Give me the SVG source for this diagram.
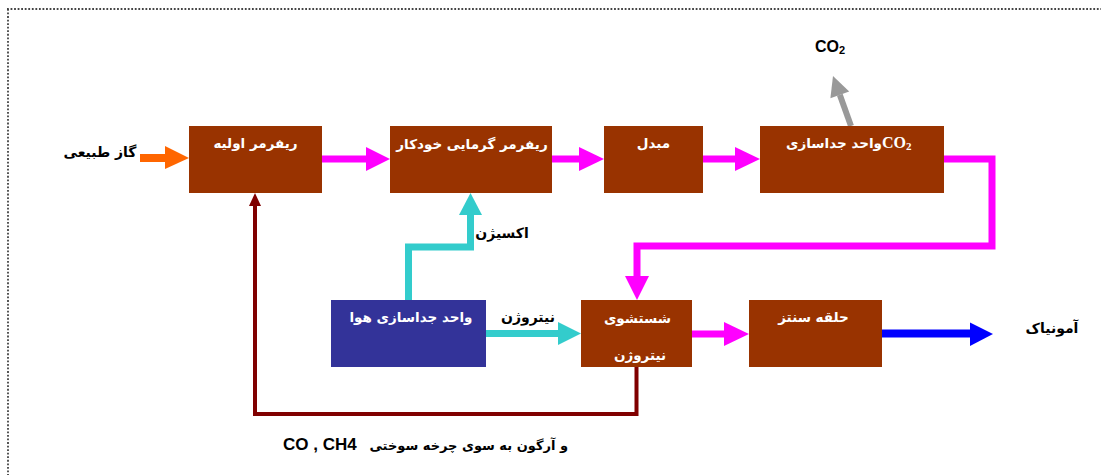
<svg xmlns="http://www.w3.org/2000/svg" width="1101" height="475" viewBox="0 0 1101 475">
<style>
.box{fill:#993300}
.air{fill:#333399}
.fa{font-family:"DejaVu Sans","Noto Sans",sans-serif;font-weight:bold}
.wt{fill:#FFFFFF;font-size:13.5px}
.bk{fill:#000000;font-size:14px}
.lat{font-family:"Liberation Sans",Arial,sans-serif;font-weight:bold;fill:#000000}
.dot{stroke:#444444;stroke-width:1.8;stroke-dasharray:1.8 1.75;fill:none}
.sh{fill:none;stroke-linejoin:miter;stroke-linecap:butt}
</style>
<rect width="1101" height="475" fill="#FFFFFF"/>
<g id="frame">
<line class="dot" x1="7" y1="9" x2="1101" y2="9"/>
<line class="dot" x1="8" y1="9" x2="8" y2="475"/>
</g>
<g id="connectors">
<path class="sh" d="M140,158 H166" stroke="#FF6600" stroke-width="8"/>
<polygon points="165,146 189,158 165,169" fill="#FF6600"/>
<path class="sh" d="M322,159 H368" stroke="#FF00FF" stroke-width="7"/>
<polygon points="366,147 390,159 366,171" fill="#FF00FF"/>
<path class="sh" d="M552,159 H581" stroke="#FF00FF" stroke-width="7"/>
<polygon points="579,147 604,159 579,171" fill="#FF00FF"/>
<path class="sh" d="M703,159 H737" stroke="#FF00FF" stroke-width="7"/>
<polygon points="735,147 760,159 735,171" fill="#FF00FF"/>
<path class="sh" d="M851,126 L839.8,94.8" stroke="#999999" stroke-width="6"/>
<polygon points="849.2,91.4 833,76 830.4,98.2" fill="#999999"/>
<path class="sh" d="M944,159 H992 V246 H637 V278" stroke="#FF00FF" stroke-width="7"/>
<polygon points="625,276 649,276 637,300" fill="#FF00FF"/>
<path class="sh" d="M408.5,300 V247 H470.5 V214" stroke="#33CCCC" stroke-width="7"/>
<polygon points="459,215 482,215 470.5,193" fill="#33CCCC"/>
<path class="sh" d="M486,333.5 H560" stroke="#33CCCC" stroke-width="7"/>
<polygon points="558,322 581,333.5 558,345" fill="#33CCCC"/>
<path class="sh" d="M692,334 H726" stroke="#FF00FF" stroke-width="7"/>
<polygon points="724,322 749,334 724,346" fill="#FF00FF"/>
<path class="sh" d="M882,333.5 H972" stroke="#0000FF" stroke-width="8"/>
<polygon points="970,322.5 993,334 970,346" fill="#0000FF"/>
<path class="sh" d="M636.5,367 V414 H255 V204" stroke="#800000" stroke-width="4"/>
<polygon points="249,206 255,193 261,206" fill="#800000"/>
</g>
<g id="n-primary">
<rect class="box" x="189" y="126" width="133" height="67"/>
<text class="fa wt" x="255.5" y="148" text-anchor="middle">ریفرمر اولیه</text>
</g>
<g id="n-auto">
<rect class="box" x="390" y="126" width="162" height="67"/>
<text class="fa wt" x="472" y="149" text-anchor="middle">ریفرمر گرمایی خودکار</text>
</g>
<g id="n-shift">
<rect class="box" x="604" y="126" width="99" height="67"/>
<text class="fa wt" x="653.5" y="148" text-anchor="middle">مبدل</text>
</g>
<g id="n-co2">
<rect class="box" x="760" y="126" width="184" height="67"/>
<text class="fa wt" x="882" y="148" text-anchor="end">واحد جداسازی</text>
<text x="882" y="148" font-family="'Liberation Serif','Times New Roman',serif" font-weight="bold" font-size="16" fill="#FFFFFF">CO<tspan font-size="11" dy="2">2</tspan></text>
</g>
<g id="n-air">
<rect class="air" x="331" y="300" width="155" height="67"/>
<text class="fa wt" x="411" y="322" text-anchor="middle">واحد جداسازی هوا</text>
</g>
<g id="n-wash">
<rect class="box" x="581" y="300" width="111" height="67"/>
<text class="fa wt" x="637.5" y="323" text-anchor="middle">شستشوی</text>
<text class="fa wt" x="640" y="360" text-anchor="middle">نیتروژن</text>
</g>
<g id="n-synth">
<rect class="box" x="749" y="300" width="133" height="67"/>
<text class="fa wt" x="813.5" y="322" text-anchor="middle">حلقه سنتز</text>
</g>
<g id="labels">
<text class="fa bk" x="100" y="157" text-anchor="middle">گاز طبیعی</text>
<text class="fa bk" x="502" y="238" text-anchor="middle">اکسیژن</text>
<text class="fa bk" x="528" y="322" text-anchor="middle">نیتروژن</text>
<text class="fa bk" x="1052" y="333" text-anchor="middle">آمونیاک</text>
<text class="lat" x="815" y="52" font-size="16">CO<tspan font-size="11" dy="2">2</tspan></text>
<text class="lat" x="283" y="450" font-size="17">CO , CH4</text>
<text class="fa bk" x="568" y="450" text-anchor="end" style="font-size:13px">و آرگون به سوی چرخه سوختی</text>
</g>
</svg>
